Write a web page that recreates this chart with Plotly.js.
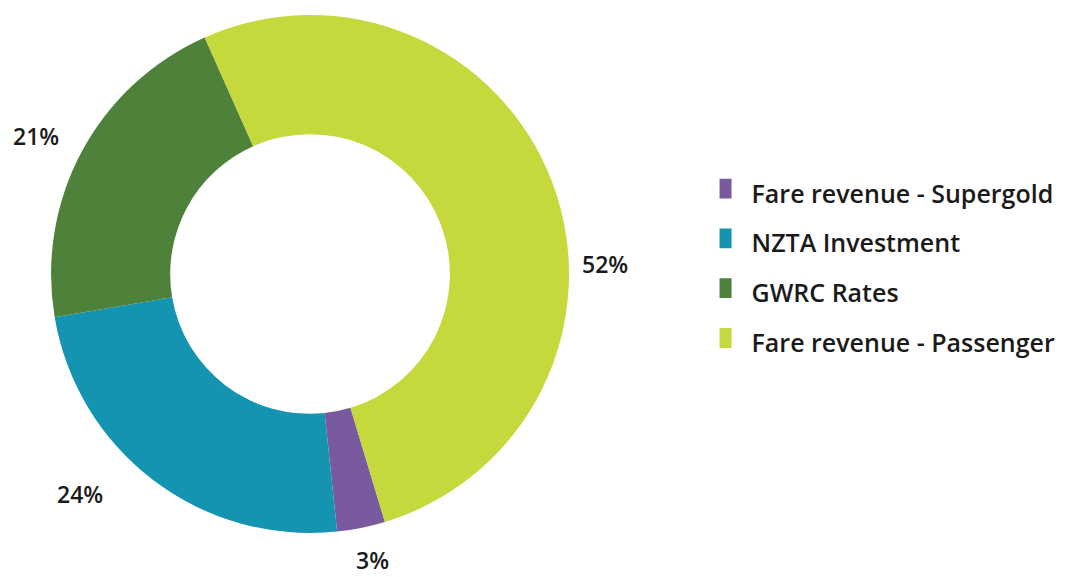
<!DOCTYPE html>
<html>
<head>
<meta charset="utf-8">
<script src="https://cdn.plot.ly/plotly-3.0.1.min.js"></script>
<style>html,body{margin:0;padding:0;background:#fff;}#chart{width:1070px;height:577px;}</style>
</head>
<body>
<div id="chart"></div>
<script>
const categories = ["Fare revenue - Supergold", "NZTA Investment", "GWRC Rates", "Fare revenue - Passenger"];
const shares = [3, 24, 21, 52];
const sliceColors = ["#7A5A9E", "#1594B1", "#4E8139", "#C5D93C"];

const W = 1070, H = 577;
const FONT = '"Open Sans", Lato, sans-serif';
const startAngle = 163.2;           // degrees clockwise from 12 o'clock
const dom = {x: [0.0477, 0.5318], y: [0.0763, 0.974]};

const legendLabels = categories.map(c => '<span style="font-size:25px">' + c + '</span>');

const trace = {
  type: 'pie',
  labels: legendLabels,
  values: shares,
  hole: 0.54,
  sort: false,
  direction: 'clockwise',
  rotation: startAngle,
  marker: {colors: sliceColors, line: {width: 0}},
  textinfo: 'none',
  domain: dom,
  hoverinfo: 'none'
};

// percent labels placed outside each slice, near the slice's mid angle
const cx = (dom.x[0] + dom.x[1]) / 2 * W;
const cyUp = (dom.y[0] + dom.y[1]) / 2 * H;
const R = Math.min((dom.x[1] - dom.x[0]) * W, (dom.y[1] - dom.y[0]) * H) / 2;
const total = shares.reduce((a, b) => a + b, 0);
const labelAngleNudge = [-1, 9, -1.5, 18.5];   // degrees, label placement tweaks
const labelRadius = [1.13, 1.23, 1.185, 1.14];
let cum = 0;
const annotations = shares.map((v, i) => {
  const ang = startAngle + (cum + v / 2) / total * 360 + labelAngleNudge[i];
  cum += v;
  const a = ang * Math.PI / 180;
  const px = cx + labelRadius[i] * R * Math.sin(a);
  const py = cyUp + labelRadius[i] * R * Math.cos(a);
  return {
    x: px / W, y: py / H, xref: 'paper', yref: 'paper',
    xanchor: 'center', yanchor: 'middle', showarrow: false, borderpad: 0,
    text: v + '%',
    font: {family: FONT, size: 23, color: '#1a1a1a', weight: 600}
  };
});

const layout = {
  width: W, height: H,
  margin: {l: 0, r: 0, t: 0, b: 0},
  paper_bgcolor: '#fff',
  showlegend: true,
  annotations: annotations,
  legend: {
    x: 0.665, y: 0.543, xanchor: 'left', yanchor: 'middle',
    font: {family: FONT, size: 36, color: '#1a1a1a', weight: 600},
    itemwidth: 30
  }
};

Plotly.newPlot('chart', [trace], layout, {displayModeBar: false, staticPlot: true}).then(gd => {
  gd.querySelectorAll('.legend .legendpoints path').forEach(p => {
    const t = p.getAttribute('transform') || '';
    p.setAttribute('transform', t + ' translate(-6,0) scale(1,1.65)');
  });
});
</script>
</body>
</html>
